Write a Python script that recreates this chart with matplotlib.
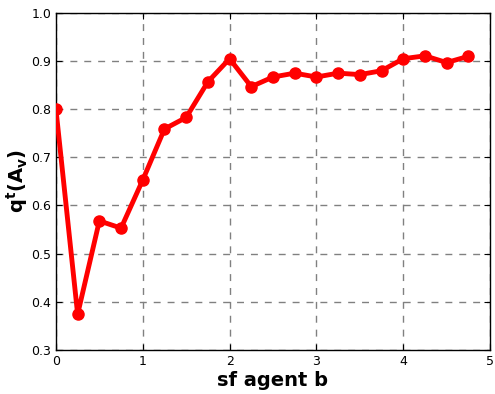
import matplotlib
matplotlib.use("Agg")
import matplotlib.pyplot as plt

# agent b scaling factor vs. quality of A_v
sf_b = [0.0, 0.25, 0.5, 0.75, 1.0, 1.25, 1.5, 1.75, 2.0, 2.25,
        2.5, 2.75, 3.0, 3.25, 3.5, 3.75, 4.0, 4.25, 4.5, 4.75]
q_av = [0.800, 0.374, 0.568, 0.553, 0.653, 0.759, 0.783, 0.857, 0.905, 0.847,
        0.867, 0.875, 0.867, 0.875, 0.872, 0.880, 0.905, 0.911, 0.897, 0.910]

fig, ax = plt.subplots(figsize=(4.95, 3.94), dpi=100)
fig.subplots_adjust(left=0.113, right=0.99, top=0.967, bottom=0.112)

ax.plot(sf_b, q_av, color="red", linewidth=3.5, marker="o", markersize=8,
        markeredgecolor="red", zorder=3)

ax.set_xlim(0, 5)
ax.set_ylim(0.3, 1.0)
ax.set_xticks([0, 1, 2, 3, 4, 5])
ax.set_yticks([0.3, 0.4, 0.5, 0.6, 0.7, 0.8, 0.9, 1.0])
ax.grid(True, color="gray", linestyle=(0, (5, 5)), linewidth=1)
ax.tick_params(direction="in", top=True, right=True, labelsize=9, length=4)
for s in ax.spines.values():
    s.set_linewidth(1)

ax.set_xlabel("sf agent b", fontsize=14, fontweight="bold", labelpad=2)
ax.set_ylabel(r"$\mathbf{q^t(A_v)}$", fontsize=14, labelpad=1)

fig.savefig("out.png", dpi=100)
